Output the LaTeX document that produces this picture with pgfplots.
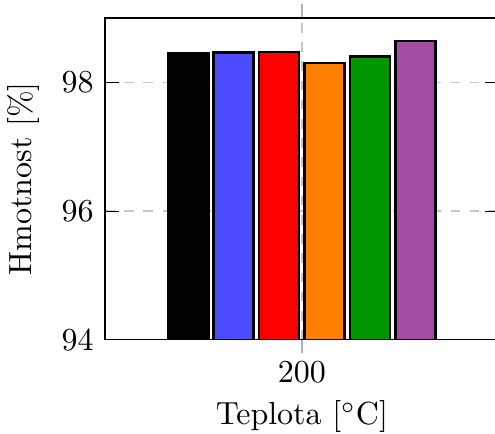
\documentclass[border=0pt]{standalone}
\usepackage{pgfplots}
\pgfplotsset{compat=1.18}
\definecolor{cOrange}{RGB}{255,128,0}
\definecolor{cGreen}{RGB}{0,150,0}
\definecolor{cPurple}{RGB}{164,77,164}
\definecolor{cBlue}{RGB}{77,77,255}
\begin{document}
\begin{tikzpicture}
\begin{axis}[
  name=ax,
  scale only axis,
  width=123.1pt, height=100.6pt,
  ybar=1.7pt, bar width=12.5pt,
  xmin=199, xmax=201,
  ymin=94, ymax=99,
  xtick={200}, ytick={94,96,98},
  x tick style={gray!60, thin},
  y tick style={black},
  grid=major,
  grid style={dashed, gray!45},
  xticklabel style={yshift=1pt},
  xlabel style={yshift=1pt},
  xlabel={Teplota [$^\circ$C]},
  ylabel={Hmotnost [\%]},
  every axis plot/.append style={draw=black, line width=0.8pt},
]
\addplot[fill=black] coordinates {(200,98.445)};
\addplot[fill=cBlue] coordinates {(200,98.46)};
\addplot[fill=red] coordinates {(200,98.47)};
\addplot[fill=cOrange] coordinates {(200,98.30)};
\addplot[fill=cGreen] coordinates {(200,98.40)};
\addplot[fill=cPurple] coordinates {(200,98.64)};
\end{axis}
\pgfresetboundingbox
\path (ax.south west) ++(-32.8pt,-29.4pt) coordinate (bl);
\path (ax.north west) ++(121.9pt,5.6pt) coordinate (tr);
\useasboundingbox (bl) rectangle (tr);
\end{tikzpicture}
\end{document}
